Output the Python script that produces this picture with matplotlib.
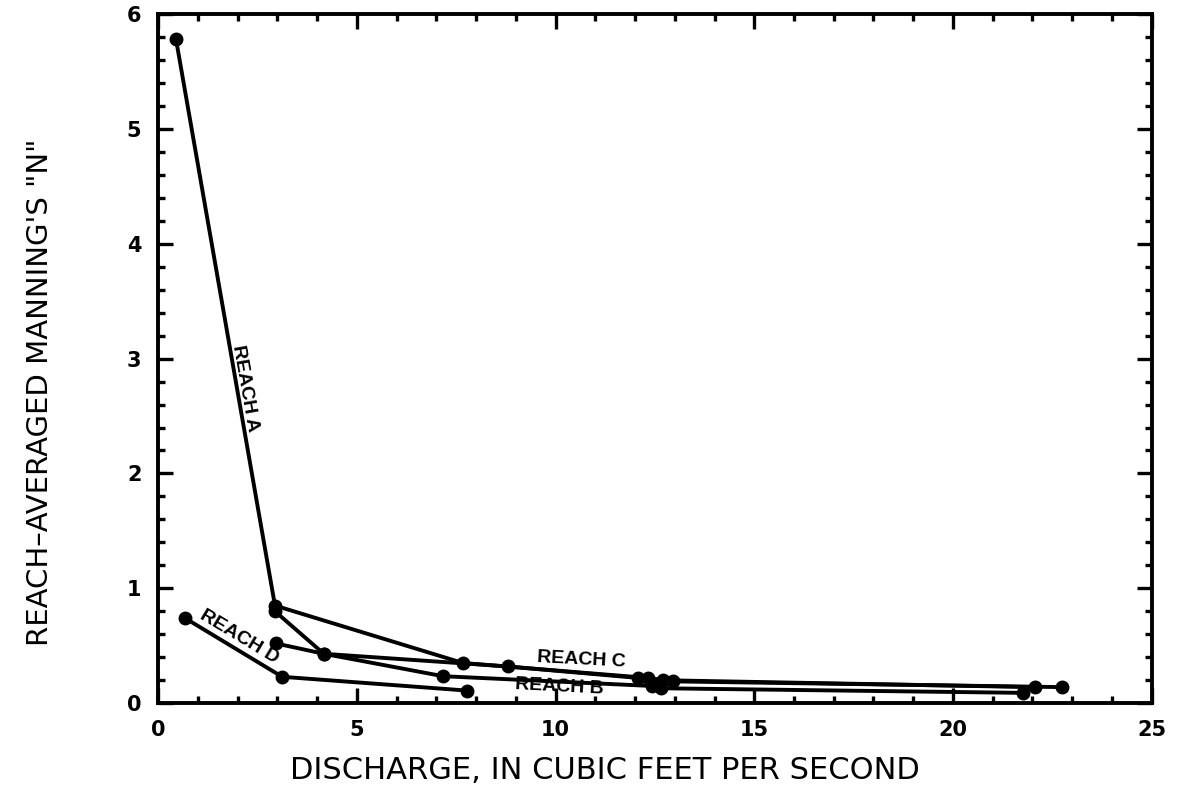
''' Reach-averaged Manning's n vs discharge, reaches A-D '''

import numpy as np
import matplotlib
matplotlib.use("Agg")
import matplotlib.pyplot as plt
from matplotlib.ticker import MultipleLocator

# discharge (cfs) and reach-averaged n
reach_a_q = [0.45, 2.94, 7.67, 12.32, 12.95, 22.74]
reach_a_n = [5.78, 0.85, 0.35, 0.22, 0.19, 0.14]

reach_b_q = [2.94, 4.17, 7.17, 12.42, 12.65, 21.76]
reach_b_n = [0.80, 0.43, 0.235, 0.15, 0.13, 0.09]

reach_c_q = [2.97, 4.17, 8.80, 12.07, 12.70, 22.06]
reach_c_n = [0.52, 0.43, 0.32, 0.22, 0.20, 0.14]

reach_d_q = [0.68, 3.12, 7.77]
reach_d_n = [0.74, 0.23, 0.11]

x_ticks = [0, 5, 10, 15, 20, 25]
y_ticks = [0, 1, 2, 3, 4, 5, 6]

fig = plt.figure(figsize=(11.8, 8), dpi=100)
ax = fig.add_axes([0.134, 0.121, 0.842, 0.8615])

for q, n in [(reach_a_q, reach_a_n), (reach_b_q, reach_b_n),
             (reach_c_q, reach_c_n), (reach_d_q, reach_d_n)]:
    ax.plot(q, n, color="black", lw=2.8, marker="o", ms=9,
            solid_capstyle="round", solid_joinstyle="round")

ax.set_xlim(0, 25)
ax.set_ylim(0, 6)
ax.set_xticks(x_ticks)
ax.set_yticks(y_ticks)
ax.xaxis.set_minor_locator(MultipleLocator(1))
ax.yaxis.set_minor_locator(MultipleLocator(0.2))
ax.tick_params(which="both", direction="in", top=True, right=True, width=2.4, color="black")
ax.tick_params(which="major", length=11, pad=12)
ax.tick_params(which="minor", length=5)
for lab in ax.get_xticklabels() + ax.get_yticklabels():
    lab.set_fontfamily("DejaVu Sans")
    lab.set_fontweight("bold")
    lab.set_fontsize(15)
for s in ax.spines.values():
    s.set_linewidth(2.8)

# reach labels along the lines
lab_kw = dict(fontfamily="Liberation Sans", fontweight="bold", fontsize=14,
              ha="center", va="center", rotation_mode="anchor")
ax.text(2.2, 2.74, "REACH A", rotation=-80, **lab_kw)
ax.text(2.05, 0.58, "REACH D", rotation=-31, **lab_kw)
ax.text(10.65, 0.38, "REACH C", rotation=-3, **lab_kw)
ax.text(10.1, 0.14, "REACH B", rotation=-3, **lab_kw)

fig.text(0.513, 0.037, "DISCHARGE, IN CUBIC FEET PER SECOND", fontsize=22,
         family="DejaVu Sans", ha="center", va="center")
fig.text(0.034, 0.51, "REACH\u2013AVERAGED MANNING'S \"N\"", fontsize=21,
         family="DejaVu Sans", ha="center", va="center", rotation=90)

fig.savefig("out.png", dpi=100, facecolor="white")
